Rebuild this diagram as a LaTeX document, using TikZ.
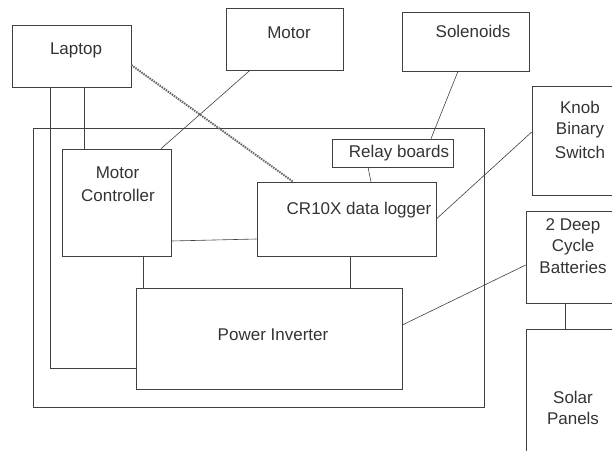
\documentclass[tikz,border=0pt]{standalone}
\usepackage{fontspec}
\setmainfont{Liberation Sans}
\begin{document}
\begin{tikzpicture}[x=1pt,y=-1pt,
  box/.style={draw=black!75,line width=0.6pt,inner sep=0pt},
  txt/.style={inner sep=0pt,font=\fontsize{17}{21}\selectfont,text=black!80,align=center},
  wire/.style={draw=black!75,line width=0.6pt},
  thick wire/.style={draw=black!60,line width=2pt,dash pattern=on 1.5pt off 1pt}]
\useasboundingbox (0,0) rectangle (612,450);
% boxes
\node[box,minimum width=119pt,minimum height=62pt] (laptop) at (71.5,56) {};
\node[box,minimum width=117pt,minimum height=62pt] (motor) at (284.5,39) {};
\node[box,minimum width=127pt,minimum height=59pt] (sol) at (465.5,41.5) {};
\node[box,minimum width=84pt,minimum height=109pt] (knob) at (574,140.5) {};
\node[box,minimum width=451pt,minimum height=279pt] (outer) at (258.5,267.5) {};
\node[box,minimum width=121pt,minimum height=28pt] (relay) at (392.5,153) {};
\node[box,minimum width=109pt,minimum height=107pt] (mc) at (116.5,202.5) {};
\node[box,minimum width=179pt,minimum height=74pt] (cr) at (346.5,219) {};
\node[box,minimum width=266pt,minimum height=101pt] (pi) at (269,338.5) {};
\node[box,minimum width=88pt,minimum height=92pt] (bat) at (570,257) {};
\node[box,minimum width=88pt,minimum height=125pt] (solar) at (570,391.5) {};
% texts
\node[txt] (tlaptop) at (76,50) {Laptop};
\node[txt] (tmotor) at (289,33) {Motor};
\node[txt] (tsol) at (473,31) {Solenoids};
\node[txt] (tknob1) at (580,107) {Knob};
\node[txt] (tknob2) at (580,130) {Binary};
\node[txt] (tknob3) at (580,152) {Switch};
\node[txt] (trelay) at (399,153) {Relay boards};
\node[txt] (tmc1) at (117.5,173) {Motor};
\node[txt] (tmc2) at (118,195) {Controller};
\node[txt] (tcr) at (359,210) {CR10X data logger};
\node[txt] (tpi) at (273,335) {Power Inverter};
\node[txt] (tbat1) at (573,226) {2 Deep};
\node[txt] (tbat2) at (573,247) {Cycle};
\node[txt] (tbat3) at (573,267) {Batteries};
\node[txt] (tsolar1) at (573,397) {Solar};
\node[txt] (tsolar2) at (573,418) {Panels};
% connectors
\draw[wire] (laptop.south -| 50,0) -- (50,368) -- (pi.west |- 0,368);
\draw[wire] (laptop.south -| 84,0) -- (mc.north -| 84,0);
\draw[thick wire] (laptop.east |- 0,65) -- (cr.north -| 293,0);
\draw[wire] (motor.south -| 250,0) -- (mc.north -| 161,0);
\draw[wire] (sol.south -| 458,0) -- (relay.north -| 431,0);
\draw[wire] (relay.south -| 368,0) -- (cr.north -| 371,0);
\draw[wire] (knob.west |- 0,132) -- (cr.east |- 0,219);
\draw[wire] (mc.east |- 0,241) -- (cr.west |- 0,239);
\draw[wire] (mc.south -| 143,0) -- (pi.north -| 143,0);
\draw[wire] (cr.south -| 350,0) -- (pi.north -| 350,0);
\draw[wire] (pi.east |- 0,325) -- (bat.west |- 0,265);
\draw[wire] (bat.south -| 565,0) -- (solar.north -| 565,0);
\end{tikzpicture}
\end{document}
